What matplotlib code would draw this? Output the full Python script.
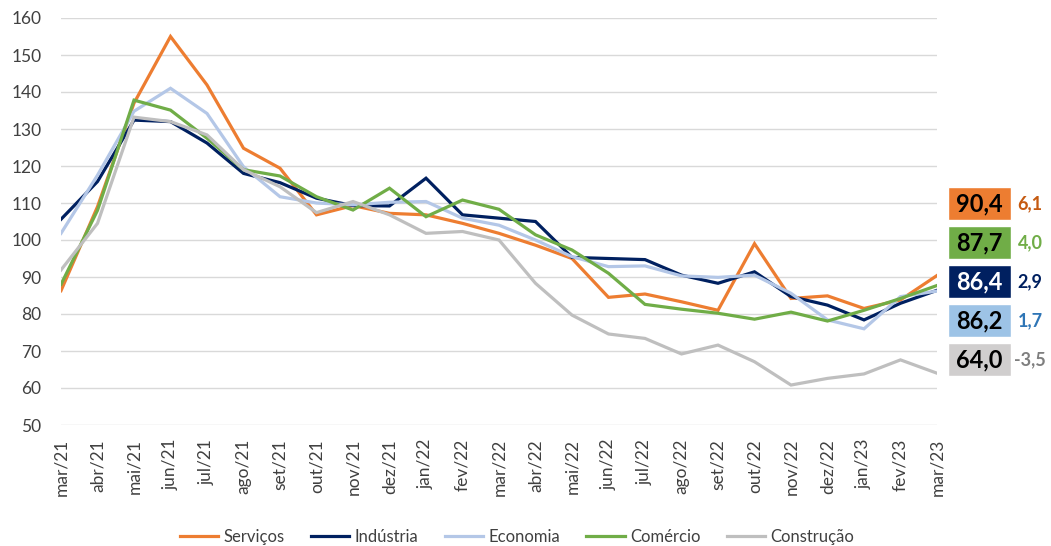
import matplotlib
matplotlib.use("Agg")
import matplotlib.pyplot as plt
from matplotlib.patches import Rectangle

plt.rcParams['font.family'] = ['Lato', 'DejaVu Sans']

# meses de mar/21 a mar/23
meses = ['mar/21', 'abr/21', 'mai/21', 'jun/21', 'jul/21', 'ago/21', 'set/21', 'out/21',
         'nov/21', 'dez/21', 'jan/22', 'fev/22', 'mar/22', 'abr/22', 'mai/22', 'jun/22',
         'jul/22', 'ago/22', 'set/22', 'out/22', 'nov/22', 'dez/22', 'jan/23', 'fev/23', 'mar/23']

servicos = [86.3, 109.0, 137.0, 155.0, 141.9, 124.8, 119.4, 106.8, 109.3, 107.2, 106.8, 104.5,
            101.8, 98.6, 95.0, 84.5, 85.4, 83.3, 81.0, 99.0, 84.2, 84.9, 81.5, 83.8, 90.4]
industria = [105.6, 115.8, 132.4, 132.0, 126.2, 118.0, 115.5, 111.3, 109.3, 109.2, 116.7, 106.8,
             105.9, 105.0, 95.3, 95.0, 94.7, 90.5, 88.3, 91.4, 84.7, 82.4, 78.4, 82.9, 86.4]
economia = [101.8, 117.5, 134.8, 141.0, 134.2, 119.8, 111.7, 110.0, 109.5, 110.2, 110.4, 105.9,
            104.0, 100.0, 95.5, 92.8, 93.0, 90.3, 89.9, 90.5, 85.6, 78.4, 76.0, 84.7, 86.2]
comercio = [88.0, 108.0, 137.8, 135.1, 127.5, 119.0, 117.3, 111.7, 108.1, 114.0, 106.3, 110.8,
            108.3, 101.4, 97.3, 91.0, 82.6, 81.3, 80.2, 78.6, 80.5, 78.1, 81.0, 84.2, 87.7]
construcao = [91.9, 104.5, 133.2, 132.0, 128.4, 119.0, 114.4, 107.4, 110.4, 106.8, 101.8, 102.3,
              100.0, 88.3, 79.7, 74.6, 73.4, 69.2, 71.6, 67.1, 60.8, 62.6, 63.8, 67.6, 64.0]

nomes = ['Serviços', 'Indústria', 'Economia', 'Comércio', 'Construção']
series = [servicos, industria, economia, comercio, construcao]
cores = ['#ED7D31', '#002060', '#B4C7E7', '#70AD47', '#BFBFBF']

# caixas da direita (ordem de cima para baixo)
ordem_caixas = [0, 3, 1, 2, 4]
variacao = ['6,1', '4,0', '2,9', '1,7', '-3,5']
cor_caixa = ['#ED7D31', '#70AD47', '#002060', '#9DC3E6', '#D0CECE']
cor_texto_caixa = ['black', 'black', 'white', 'black', 'black']
cor_variacao = ['#C55A11', '#70AD47', '#002060', '#2E75B6', '#7F7F7F']

fig = plt.figure(figsize=(10.51, 5.46), dpi=100)
ax = fig.add_axes([61 / 1051, 1 - 425 / 546, (937 - 61) / 1051, (425 - 18) / 546])

x = list(range(len(meses)))
for nome, s, c in zip(nomes, series, cores):
    ax.plot(x, s, color=c, lw=2.3, label=nome, solid_joinstyle='miter')

ax.set_xlim(0, len(meses) - 1)
ax.set_ylim(50, 160)
ax.set_yticks(range(50, 161, 10))
ax.set_xticks(x)
ax.set_xticklabels(meses, rotation=90)
ax.grid(axis='y', color='#D9D9D9', lw=1)
ax.set_axisbelow(True)
for sp in ax.spines.values():
    sp.set_visible(False)
ax.tick_params(axis='y', length=0, pad=14, labelsize=12.5, labelcolor='#404040')
ax.tick_params(axis='x', length=0, pad=10, labelsize=12.5, labelcolor='#404040')

# caixas com o último valor e variação
for k, i in enumerate(ordem_caixas):
    yc = 1 - (203.5 + 39 * k) / 546
    h = 33 / 546
    fig.patches.append(Rectangle((948 / 1051, yc - h / 2), 63 / 1051, h,
                                 transform=fig.transFigure, facecolor=cor_caixa[k],
                                 edgecolor='white', lw=1))
    txt = f'{series[i][-1]:.1f}'.replace('.', ',')
    fig.text(979.5 / 1051, yc, txt, ha='center', va='center', fontsize=17,
             fontweight='bold', color=cor_texto_caixa[k])
    fig.text(1030 / 1051, yc, variacao[k], ha='center', va='center', fontsize=13,
             fontweight='bold', color=cor_variacao[k])

fig.legend(loc='center', bbox_to_anchor=(517 / 1051, 1 - 537 / 546), ncol=5, frameon=False,
           fontsize=12, handlelength=2.3, handletextpad=0.3, columnspacing=1.6,
           labelcolor='#404040')

fig.savefig('out.png', dpi=100)
